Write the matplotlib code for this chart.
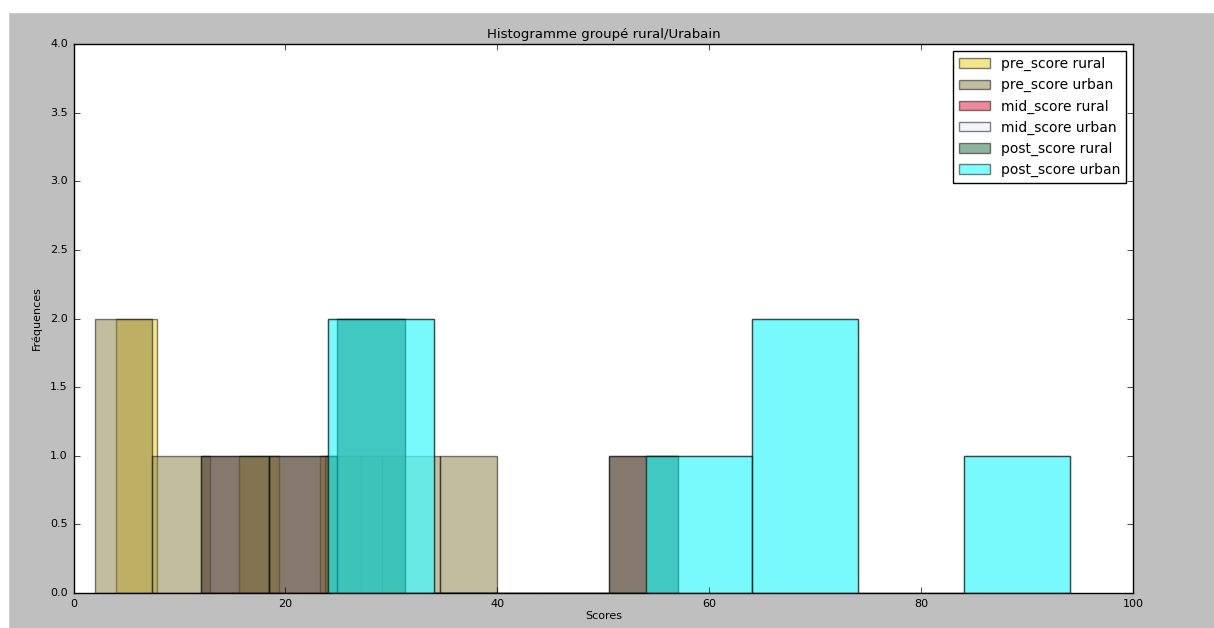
import matplotlib
matplotlib.use("Agg")
import matplotlib.pyplot as plt
from matplotlib.patches import Rectangle

# scores (7 bins per series)
pre_rural = [4, 7, 17, 25, 31]
pre_urban = [2, 5, 10, 26, 32, 40]
mid_rural = [12, 20, 26, 30, 57]
mid_urban = [24, 30, 58, 66, 70, 94]
post_rural = [12, 20, 26, 30, 57]
post_urban = [24, 30, 58, 66, 70, 94]

series = [pre_rural, pre_urban, mid_rural, mid_urban, post_rural, post_urban]
labels = ["pre_score rural", "pre_score urban", "mid_score rural",
          "mid_score urban", "post_score rural", "post_score urban"]
colors = ["#ebcd19", "#877d41", "#dc143c", "#e6ecfa", "#1f6b41", "#00ffff"]

plt.style.use("classic")
plt.rcParams["font.family"] = "DejaVu Sans"

fig = plt.figure(figsize=(12.14, 6.28), dpi=100)
fig.patch.set_facecolor("#bfbfbf")
# white screenshot margin on top and left
fig.add_artist(Rectangle((0, 1 - 12 / 628), 1, 12 / 628, transform=fig.transFigure,
                         color="white", zorder=-5))
fig.add_artist(Rectangle((0, 0), 8 / 1214, 1, transform=fig.transFigure,
                         color="white", zorder=-5))

ax = fig.add_axes([73.5 / 1214, 35 / 628, (1133.3 - 73.5) / 1214, (593 - 44) / 628])

for data, lab, col in zip(series, labels, colors):
    ax.hist(data, bins=7, alpha=0.5, color=col, label=lab)

ax.set_xlim(0, 100)
ax.set_ylim(0, 4)
ax.set_xticks([0, 20, 40, 60, 80, 100])
ax.set_yticks([0, 0.5, 1.0, 1.5, 2.0, 2.5, 3.0, 3.5, 4.0])
ax.tick_params(labelsize=8)
ax.set_xlabel("Scores", fontsize=8, labelpad=2)
ax.set_ylabel("Fréquences", fontsize=8, labelpad=6)
ax.set_title("Histogramme groupé rural/Urabain", fontsize=9.5, pad=4)

ax.legend(loc="upper right", fontsize=10, handlelength=2.2, labelspacing=0.5,
          borderpad=0.45, handletextpad=0.8)

fig.savefig("out.png", dpi=100, facecolor=fig.get_facecolor())
